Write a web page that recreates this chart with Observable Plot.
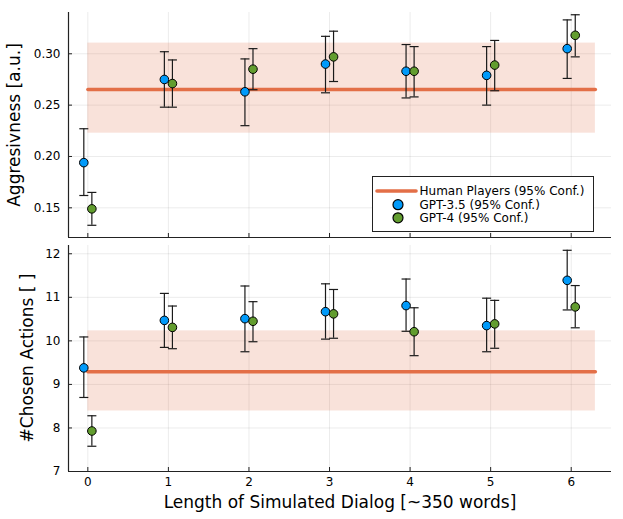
<!DOCTYPE html>
<html><head><meta charset="utf-8">
<script src="https://cdn.jsdelivr.net/npm/d3@7"></script>
<script src="https://cdn.jsdelivr.net/npm/@observablehq/plot@0.6"></script>
<style>
html,body{margin:0;padding:0;background:#fff;}
#root{position:relative;width:623px;height:519px;font-family:"DejaVu Sans",sans-serif;overflow:hidden;background:#fff;}
#root svg{position:absolute;left:0;}
.lab{position:absolute;font-size:17px;color:#000;white-space:nowrap;line-height:1;}
</style></head><body><div id="root"></div>
<script>
// ---- data ----
const steps = [0, 1, 2, 3, 4, 5, 6];
const seriesNames = ["GPT-3.5", "GPT-4"];
const seriesColors = ["#009AFA", "#629D2F"];

const gpt35Aggr   = [0.194, 0.275, 0.263, 0.290, 0.283, 0.279, 0.305];
const gpt35AggrLo = [0.162, 0.248, 0.230, 0.262, 0.257, 0.250, 0.276];
const gpt35AggrHi = [0.227, 0.302, 0.295, 0.317, 0.309, 0.307, 0.333];
const gpt4Aggr    = [0.149, 0.271, 0.285, 0.297, 0.283, 0.289, 0.318];
const gpt4AggrLo  = [0.133, 0.248, 0.265, 0.273, 0.258, 0.264, 0.297];
const gpt4AggrHi  = [0.165, 0.294, 0.305, 0.322, 0.307, 0.313, 0.338];
const humanAggr   = {mean: 0.2652, lo: 0.2227, hi: 0.3104};

const gpt35Act    = [9.38, 10.47, 10.51, 10.67, 10.81, 10.35, 11.39];
const gpt35ActLo  = [8.70, 9.85, 9.75, 10.04, 10.22, 9.75, 10.71];
const gpt35ActHi  = [10.09, 11.09, 11.26, 11.31, 11.42, 10.98, 12.08];
const gpt4Act     = [7.93, 10.31, 10.45, 10.62, 10.21, 10.39, 10.78];
const gpt4ActLo   = [7.58, 9.82, 9.98, 10.06, 9.66, 9.83, 10.30];
const gpt4ActHi   = [8.28, 10.80, 10.90, 11.18, 10.76, 10.93, 11.27];
const humanAct    = {mean: 9.29, lo: 8.39, hi: 10.23};

const humanX = [0, 6.3];
const aggrTicks = [0.15, 0.20, 0.25, 0.30];
const actTicks = [7, 8, 9, 10, 11, 12];

const legendLabels = ["Human Players (95% Conf.)", "GPT-3.5 (95% Conf.)", "GPT-4 (95% Conf.)"];
const xLabel = "Length of Simulated Dialog [~350 words]";
const yLabelTop = "Aggresivness [a.u.]";
const yLabelBottom = "#Chosen Actions [ ]";

// ---- helpers ----
const dodge = 0.05;
function rowsOf(v35, lo35, hi35, v4, lo4, hi4) {
  const out = [];
  steps.forEach((s, i) => {
    out.push({s, xo: s - dodge, v: v35[i], lo: lo35[i], hi: hi35[i], series: seriesNames[0]});
    out.push({s, xo: s + dodge, v: v4[i], lo: lo4[i], hi: hi4[i], series: seriesNames[1]});
  });
  return out;
}
const capSymbol = {draw(ctx, size) { const w = Math.sqrt(size / Math.PI); ctx.moveTo(-w, 0); ctx.lineTo(w, 0); }};
const xDomain = [-0.24, 6.5];
const W = 623, ML = 68, MR = 12;

function panel({height, mt, mb, yDomain, yTicks, yFmt, rows, human, showX}) {
  const ph = height - mt - mb, pw = W - ML - MR;
  const humanLine = humanX.map(x => ({x, y: human.mean}));
  const marks = [
    Plot.gridX(steps, {stroke: "#000", strokeOpacity: 0.1, strokeWidth: 0.8}),
    Plot.gridY(yTicks, {stroke: "#000", strokeOpacity: 0.1, strokeWidth: 0.8}),
    Plot.rect([human], {x1: () => humanX[0], x2: () => humanX[1], y1: "lo", y2: "hi", fill: "#E36F47", fillOpacity: 0.2}),
    Plot.line(humanLine, {x: "x", y: "y", stroke: "#E36F47", strokeWidth: 3.4}),
    Plot.ruleX(rows, {x: "xo", y1: "lo", y2: "hi", stroke: "#1a1a1a", strokeWidth: 1.2}),
    Plot.dot(rows, {x: "xo", y: "lo", symbol: capSymbol, r: 4.5, fill: "none", stroke: "#1a1a1a", strokeWidth: 1.2}),
    Plot.dot(rows, {x: "xo", y: "hi", symbol: capSymbol, r: 4.5, fill: "none", stroke: "#1a1a1a", strokeWidth: 1.2}),
    Plot.dot(rows, {x: "xo", y: "v", r: 4.3, fill: "series", stroke: "#000", strokeWidth: 1}),
    Plot.ruleX([xDomain[0]], {stroke: "#222", strokeWidth: 1.2}),
    Plot.ruleY([yDomain[0]], {stroke: "#222", strokeWidth: 1.2}),
    Plot.ruleX(steps, {insetTop: ph - 4, stroke: "#222", strokeWidth: 1}),
    Plot.ruleY(yTicks, {insetRight: pw - 4, stroke: "#222", strokeWidth: 1}),
    Plot.axisY(yTicks, {tickSize: 0, tickPadding: 8, tickFormat: yFmt, label: null, fill: "#000"})
  ];
  if (showX) marks.push(Plot.axisX(steps, {tickSize: 0, tickPadding: 6, tickFormat: d3.format("d"), label: null, fill: "#000"}));
  return Plot.plot({
    width: W, height, marginLeft: ML, marginRight: MR, marginTop: mt, marginBottom: mb,
    style: {fontFamily: "DejaVu Sans", fontSize: "12px", background: "transparent", overflow: "visible", color: "#000"},
    x: {domain: xDomain, axis: showX ? undefined : null},
    y: {domain: yDomain},
    color: {domain: seriesNames, range: seriesColors},
    marks
  });
}

const root = document.getElementById("root");
const top1 = panel({height: 240, mt: 12, mb: 3, yDomain: [0.1211, 0.3402], yTicks: aggrTicks, yFmt: d3.format(".2f"),
  rows: rowsOf(gpt35Aggr, gpt35AggrLo, gpt35AggrHi, gpt4Aggr, gpt4AggrLo, gpt4AggrHi), human: humanAggr, showX: false});
top1.style.top = "0px";
root.appendChild(top1);
const bot = panel({height: 279, mt: 5, mb: 48, yDomain: [7, 12.19], yTicks: actTicks, yFmt: d3.format("d"),
  rows: rowsOf(gpt35Act, gpt35ActLo, gpt35ActHi, gpt4Act, gpt4ActLo, gpt4ActHi), human: humanAct, showX: true});
bot.style.top = "240px";
root.appendChild(bot);

function addLabel(text, cx, cy, rot) {
  const d = document.createElement("div");
  d.className = "lab";
  d.textContent = text;
  d.style.left = cx + "px"; d.style.top = cy + "px";
  d.style.transform = "translate(-50%,-50%)" + (rot ? " rotate(-90deg)" : "");
  root.appendChild(d);
}
addLabel(yLabelTop, 14, 124.5, true);
addLabel(yLabelBottom, 27, 357.5, true);
addLabel(xLabel, 340, 502, false);

// legend
const lg = d3.create("svg").attr("width", 222).attr("height", 56)
  .style("left", "371.5px").style("top", "175.5px").style("font-family", "DejaVu Sans").style("font-size", "12px");
lg.append("rect").attr("x", 0.5).attr("y", 0.5).attr("width", 221).attr("height", 55).attr("fill", "#fff").attr("stroke", "#222").attr("stroke-width", 1);
const rowY = [15, 28.7, 41.8];
lg.append("line").attr("x1", 5).attr("x2", 44).attr("y1", rowY[0]).attr("y2", rowY[0]).attr("stroke", "#E36F47").attr("stroke-width", 3.6).attr("stroke-linecap", "round");
lg.append("circle").attr("cx", 26).attr("cy", rowY[1]).attr("r", 5).attr("fill", seriesColors[0]).attr("stroke", "#000").attr("stroke-width", 1.2);
lg.append("circle").attr("cx", 26).attr("cy", rowY[2]).attr("r", 5).attr("fill", seriesColors[1]).attr("stroke", "#000").attr("stroke-width", 1.2);
legendLabels.forEach((t, i) => lg.append("text").attr("x", 47.5).attr("y", rowY[i]).attr("dy", "0.36em").attr("fill", "#000").text(t));
root.appendChild(lg.node());
</script></body></html>
